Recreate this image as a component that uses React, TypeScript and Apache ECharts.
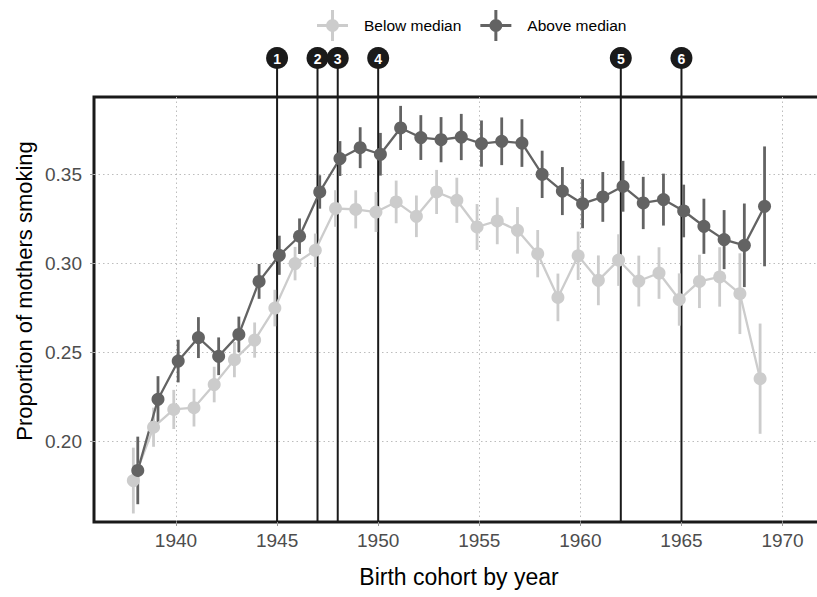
import React, { useEffect, useRef } from "react";
import * as echarts from "echarts";

const years = [
  1938, 1939, 1940, 1941, 1942, 1943, 1944, 1945, 1946, 1947, 1948, 1949, 1950, 1951, 1952, 1953,
  1954, 1955, 1956, 1957, 1958, 1959, 1960, 1961, 1962, 1963, 1964, 1965, 1966, 1967, 1968, 1969,
];

const belowMedian = [
  0.178, 0.208, 0.218, 0.219, 0.232, 0.246, 0.257, 0.275, 0.3, 0.3075, 0.331, 0.3305, 0.329, 0.3347, 0.3266, 0.3403,
  0.3356, 0.3206, 0.324, 0.3187, 0.3056, 0.281, 0.3044, 0.2906, 0.302, 0.2902, 0.2947, 0.2798, 0.29, 0.2925, 0.2831, 0.2353,
];
const belowMedianErr = [
  0.0185, 0.011, 0.011, 0.0106, 0.01, 0.0099, 0.0099, 0.0103, 0.0094, 0.0094, 0.0103, 0.0107, 0.0112, 0.012, 0.0117, 0.0124,
  0.0127, 0.0129, 0.0131, 0.0131, 0.0133, 0.0134, 0.0136, 0.014, 0.0145, 0.0143, 0.0145, 0.0147, 0.015, 0.0167, 0.0227, 0.031,
];

const aboveMedian = [
  0.1837, 0.2237, 0.2452, 0.2584, 0.2479, 0.2602, 0.29, 0.3047, 0.3154, 0.3403, 0.3591, 0.3652, 0.3615, 0.3763, 0.3709, 0.3697,
  0.3712, 0.3675, 0.3688, 0.3678, 0.3502, 0.3408, 0.3337, 0.3375, 0.3435, 0.3341, 0.336, 0.3296, 0.321, 0.3135, 0.3103, 0.3322,
];
const aboveMedianErr = [
  0.019, 0.013, 0.012, 0.0115, 0.0106, 0.01, 0.0098, 0.011, 0.01, 0.0094, 0.0098, 0.0115, 0.012, 0.0124, 0.0126, 0.0127,
  0.013, 0.013, 0.0134, 0.0134, 0.0133, 0.0135, 0.0138, 0.014, 0.0143, 0.0147, 0.0146, 0.0148, 0.0155, 0.0166, 0.0235, 0.0337,
];

const eventYears = [1945, 1947, 1948, 1950, 1962, 1965];
const eventLabels = ["1", "2", "3", "4", "5", "6"];

const xTicks = [1940, 1945, 1950, 1955, 1960, 1965, 1970];
const yTicks = [0.2, 0.25, 0.3, 0.35];

const seriesNames = ["Below median", "Above median"];

const X_MIN = 1935.945;
const X_MAX = 1972.05;
const Y_MIN = 0.1547;
const Y_MAX = 0.3937;
const EVENT_TOP = 0.4156;
const DODGE = 0.11;

const LIGHT = "#cccccc";
const DARK = "#636363";
const FONT = "'Liberation Sans', Arial, Helvetica, sans-serif";

const ICON =
  "path://M0 14H31V17H0Z M14 0H17V31H14Z M9 15.5A6.5 6.5 0 1 1 22 15.5A6.5 6.5 0 1 1 9 15.5Z";

export default function App() {
  const ref = useRef<HTMLDivElement>(null);

  useEffect(() => {
    const chart = echarts.init(ref.current!, null, { renderer: "svg" });

    const lightPts = years.map((y, i) => [y - DODGE, belowMedian[i]]);
    const darkPts = years.map((y, i) => [y + DODGE, aboveMedian[i]]);
    const lightErr = years.map((y, i) => [y - DODGE, belowMedian[i] - belowMedianErr[i], belowMedian[i] + belowMedianErr[i]]);
    const darkErr = years.map((y, i) => [y + DODGE, aboveMedian[i] - aboveMedianErr[i], aboveMedian[i] + aboveMedianErr[i]]);

    const errRender = (color: string) => (params: any, api: any) => {
      const x = api.value(0);
      const a = api.coord([x, api.value(1)]);
      const b = api.coord([x, api.value(2)]);
      return {
        type: "line",
        shape: { x1: a[0], y1: a[1], x2: b[0], y2: b[1] },
        style: { stroke: color, lineWidth: 2.8 },
      };
    };

    const option: any = {
      animation: false,
      textStyle: { fontFamily: FONT },
      legend: {
        left: 312,
        top: 5,
        itemWidth: 31,
        itemHeight: 31,
        itemGap: 19,
        selectedMode: false,
        textStyle: { fontSize: 15.5, color: "#000", fontFamily: FONT, padding: [0, 0, 0, 11] },
        data: [
          { name: seriesNames[0], icon: ICON },
          { name: seriesNames[1], icon: ICON },
        ],
      },
      grid: {
        left: 94,
        top: 97,
        width: 730,
        height: 425,
        outerBoundsMode: "none",
        containLabel: false,
        show: true,
        borderColor: "#1a1a1a",
        borderWidth: 3,
        backgroundColor: "transparent",
      },
      xAxis: {
        type: "value",
        min: X_MIN,
        max: X_MAX,
        axisLine: { show: false },
        axisTick: { show: true, length: 4, lineStyle: { color: "#999" }, customValues: xTicks },
        axisLabel: {
          customValues: xTicks,
          formatter: (v: number) => String(Math.round(v)),
          fontSize: 19,
          color: "#4d4d4d",
          fontFamily: FONT,
          margin: 9,
        },
        splitLine: { show: true, lineStyle: { color: "#bdbdbd", width: 1, type: [1.5, 3] } },
      },
      yAxis: {
        type: "value",
        min: Y_MIN,
        max: Y_MAX,
        axisLine: { show: false },
        axisTick: { show: true, length: 4, lineStyle: { color: "#999" }, customValues: yTicks },
        axisLabel: {
          customValues: yTicks,
          formatter: (v: number) => v.toFixed(2),
          fontSize: 19,
          color: "#4d4d4d",
          fontFamily: FONT,
          margin: 12,
        },
        splitLine: { show: true, lineStyle: { color: "#bdbdbd", width: 1, type: [1.5, 3] } },
      },
      graphic: [
        {
          type: "text",
          x: 459,
          y: 577,
          style: {
            text: "Birth cohort by year",
            fontSize: 23,
            fontFamily: FONT,
            fill: "#000",
            align: "center",
            verticalAlign: "middle",
          },
        },
        {
          type: "text",
          x: 24,
          y: 291,
          rotation: Math.PI / 2,
          style: {
            text: "Proportion of mothers smoking",
            fontSize: 22,
            fontFamily: FONT,
            fill: "#000",
            align: "center",
            verticalAlign: "middle",
          },
        },
      ],
      series: [
        {
          type: "custom",
          name: "events",
          clip: false,
          silent: true,
          encode: { x: 0, y: 1 },
          data: eventYears.map((e) => [e, Y_MIN]),
          renderItem: (params: any, api: any) => {
            const x = api.value(0);
            const top = api.coord([x, EVENT_TOP]);
            const bot = api.coord([x, Y_MIN]);
            return {
              type: "group",
              children: [
                {
                  type: "line",
                  shape: { x1: top[0], y1: top[1], x2: bot[0], y2: bot[1] },
                  style: { stroke: "#1a1a1a", lineWidth: 2 },
                },
                {
                  type: "circle",
                  shape: { cx: top[0], cy: top[1], r: 11 },
                  style: { fill: "#1a1a1a" },
                },
                {
                  type: "text",
                  x: top[0],
                  y: top[1] + 1,
                  style: {
                    text: eventLabels[params.dataIndex],
                    fill: "#ffffff",
                    fontSize: 14,
                    fontWeight: "bold",
                    fontFamily: FONT,
                    align: "center",
                    verticalAlign: "middle",
                  },
                },
              ],
            };
          },
        },
        {
          type: "custom",
          name: "below-err",
          silent: true,
          encode: { x: 0, y: [1, 2] },
          data: lightErr,
          renderItem: errRender(LIGHT),
        },
        {
          type: "line",
          name: seriesNames[0],
          data: lightPts,
          color: LIGHT,
          symbol: "circle",
          symbolSize: 13,
          showSymbol: true,
          itemStyle: { color: LIGHT, borderWidth: 0 },
          lineStyle: { color: LIGHT, width: 2.3 },
          silent: true,
        },
        {
          type: "custom",
          name: "above-err",
          silent: true,
          encode: { x: 0, y: [1, 2] },
          data: darkErr,
          renderItem: errRender(DARK),
        },
        {
          type: "line",
          name: seriesNames[1],
          data: darkPts,
          color: DARK,
          symbol: "circle",
          symbolSize: 13,
          showSymbol: true,
          itemStyle: { color: DARK, borderWidth: 0 },
          lineStyle: { color: DARK, width: 2.3 },
          silent: true,
        },
      ],
    };

    chart.setOption(option);
    return () => chart.dispose();
  }, []);

  return (
    <div style={{ width: 817, height: 597, position: "absolute", left: 0, top: 0, overflow: "hidden" }}>
      <div ref={ref} style={{ width: 817, height: 597 }} />
    </div>
  );
}
